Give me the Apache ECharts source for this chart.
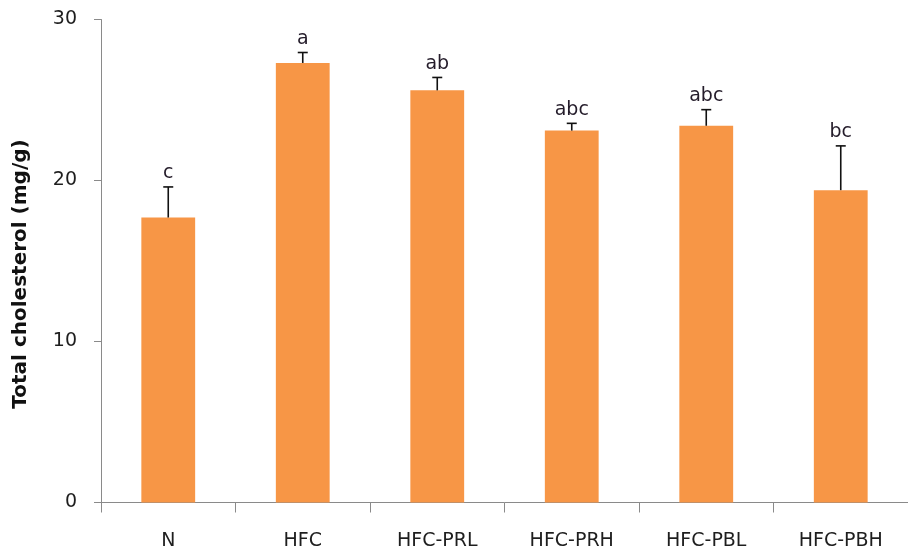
<!DOCTYPE html>
<html>
<head>
<meta charset="utf-8">
<script src="https://cdn.jsdelivr.net/npm/echarts@6/dist/echarts.min.js"></script>
<style>
  html, body { margin: 0; padding: 0; background: #fff; }
  #chart { width: 908px; height: 552px; }
</style>
</head>
<body>
<div id="chart"></div>
<script>
// Total cholesterol per diet group (mean ± SD) with significance letters
const categories = ['N', 'HFC', 'HFC-PRL', 'HFC-PRH', 'HFC-PBL', 'HFC-PBH'];
const means = [17.7, 27.3, 25.6, 23.1, 23.4, 19.4];
const errors = [1.9, 0.65, 0.8, 0.45, 1.0, 2.75];
const letters = ['c', 'a', 'ab', 'abc', 'abc', 'bc'];
const yTicks = [0, 10, 20, 30];
const yTitle = 'Total cholesterol (mg/g)';

const barColor = '#F79646';
const axisColor = '#8a8a8a';
const textColor = '#1e1e1e';
const fontFamily = '"DejaVu Sans", Verdana, sans-serif';

const errData = categories.map((c, i) => [i, means[i], errors[i], letters[i]]);

const chart = echarts.init(document.getElementById('chart'), null, { renderer: 'canvas' });

chart.setOption({
  animation: false,
  backgroundColor: '#ffffff',
  grid: { left: 101, right: -4, top: 19.5, bottom: 49.5, containLabel: false },
  graphic: [
    {
      type: 'text',
      x: 21,
      y: 274,
      rotation: Math.PI / 2,
      style: {
        text: yTitle,
        align: 'center',
        verticalAlign: 'middle',
        fill: '#111',
        font: 'bold 20px ' + fontFamily
      }
    }
  ],
  xAxis: {
    type: 'category',
    data: categories,
    axisLine: { lineStyle: { color: axisColor, width: 1 } },
    axisTick: { show: true, length: 10, alignWithLabel: false, lineStyle: { color: axisColor } },
    axisLabel: { color: textColor, fontFamily: fontFamily, fontSize: 19, margin: 29, interval: 0 },
    splitLine: { show: false }
  },
  yAxis: {
    type: 'value',
    min: yTicks[0],
    max: yTicks[yTicks.length - 1],
    interval: 10,
    axisLine: { show: true, lineStyle: { color: axisColor, width: 1 } },
    axisTick: { show: true, length: 7, lineStyle: { color: axisColor } },
    axisLabel: { color: textColor, fontFamily: fontFamily, fontSize: 19, margin: 24 },
    splitLine: { show: false }
  },
  series: [
    {
      type: 'bar',
      data: means,
      barWidth: '40%',
      itemStyle: { color: barColor },
      z: 2
    },
    {
      type: 'custom',
      data: errData,
      z: 3,
      renderItem: function (params, api) {
        const idx = api.value(0);
        const mean = api.value(1);
        const err = api.value(2);
        const base = api.coord([idx, mean]);
        const top = api.coord([idx, mean + err]);
        const half = 5;
        return {
          type: 'group',
          children: [
            {
              type: 'line',
              shape: { x1: base[0], y1: base[1], x2: top[0], y2: top[1] },
              style: { stroke: '#111', lineWidth: 1.6 }
            },
            {
              type: 'line',
              shape: { x1: top[0] - half, y1: top[1], x2: top[0] + half, y2: top[1] },
              style: { stroke: '#111', lineWidth: 1.6 }
            },
            {
              type: 'text',
              style: {
                text: letters[params.dataIndex],
                x: top[0],
                y: top[1] - 4,
                align: 'center',
                verticalAlign: 'bottom',
                fill: '#241c2a',
                font: '19px ' + fontFamily
              }
            }
          ]
        };
      }
    }
  ]
});
</script>
</body>
</html>
